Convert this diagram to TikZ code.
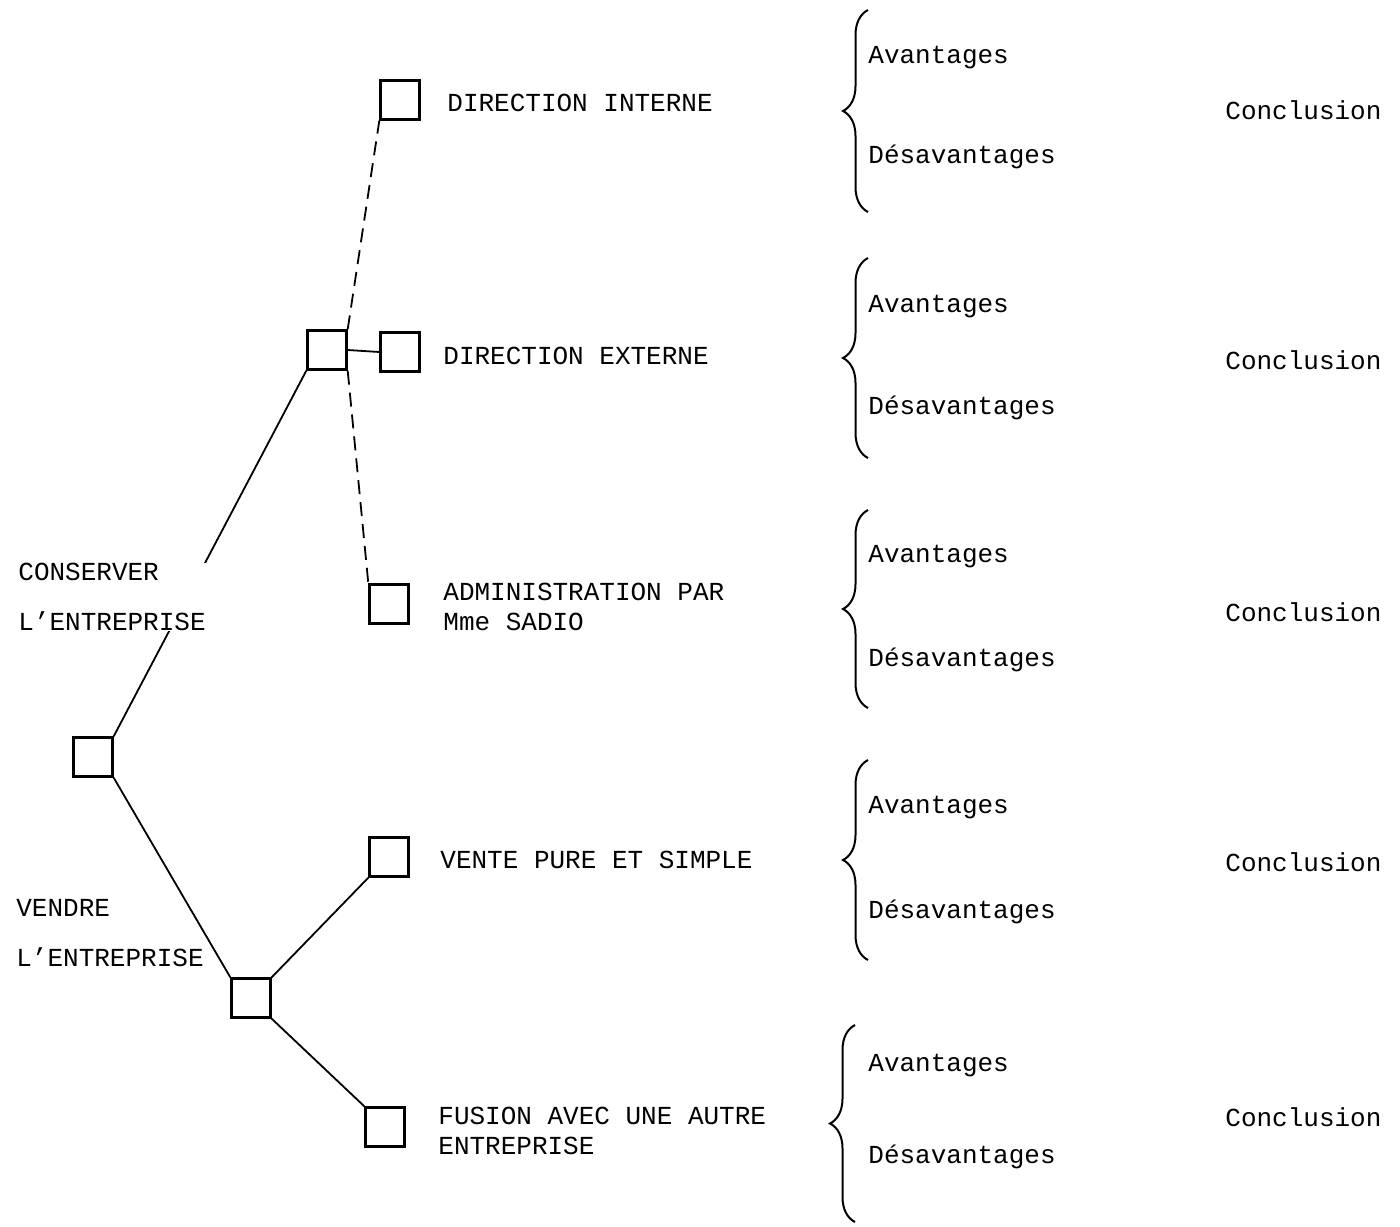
\documentclass[tikz,border=0pt]{standalone}
\usepackage{fontspec}
\setmainfont{Liberation Mono}
\usetikzlibrary{decorations.pathreplacing}

\begin{document}
\begin{tikzpicture}[x=0.5pt,y=-0.5pt,
  box/.style={draw,line width=1.2pt,inner sep=0pt,minimum size=19.5pt},
  lbl/.style={anchor=west,inner sep=0pt,font=\fontsize{13}{15}\selectfont,align=left},
  link/.style={line width=0.9pt},
  dashlink/.style={line width=0.9pt,dash pattern=on 7pt off 4pt},
  brace/.style={line width=1pt,decorate,decoration={brace,amplitude=12.5pt}}]
\useasboundingbox (0,0) rectangle (1400,1226);
%root and first choices
\node[box] (root) at (93,757) {};
\node[box] (keep) at (327,350) {};
\node[box] (sell) at (251,998) {};
\draw[link] (root.north east) -- (keep.south west);
\draw[link] (root.south east) -- (sell.north west);
\node[lbl,fill=white] (keeplbl) at (18,597) {CONSERVER\\[10pt]L'ENTREPRISE};
\node[lbl] (selllbl) at (16,933) {VENDRE\\[10pt]L'ENTREPRISE};
%options
\node[box] (intern) at (400,100) {};
\node[box] (extern) at (400,352) {};
\node[box] (admin) at (389,604) {};
\node[box] (vente) at (389,857) {};
\node[box] (fusion) at (385,1127) {};
\node[lbl] (internlbl) at (447,103) {DIRECTION INTERNE};
\node[lbl] (externlbl) at (443,356) {DIRECTION EXTERNE};
\node[lbl] (adminlbl) at (443,607) {ADMINISTRATION PAR\\Mme SADIO};
\node[lbl] (ventelbl) at (440,860) {VENTE PURE ET SIMPLE};
\node[lbl] (fusionlbl) at (438,1131) {FUSION AVEC UNE AUTRE\\ENTREPRISE};
\draw[dashlink] (keep.north east) -- (intern.south west);
\draw[link] (keep.east) -- (extern.west);
\draw[dashlink] (keep.south east) -- (admin.north west);
\draw[link] (sell.north east) -- (vente.south west);
\draw[link] (sell.south east) -- (fusion.north west);
%braces and conclusions
\foreach \i/\bx/\top/\bot/\a/\d/\c in {1/868/10/212/58/157/110,
  2/868/258/458/307/408/360, 3/868/510/708/557/660/612,
  4/868/760/960/808/912/862, 5/855/1025/1222/1066/1157/1117}
{
  \coordinate (b\i top) at (\bx,\top);
  \coordinate (b\i bot) at (\bx,\bot);
  \draw[brace] (b\i bot) -- (b\i top);
  \node[lbl] (av\i) at (868,\a) {Avantages};
  \node[lbl] (dav\i) at (868,\d) {Désavantages};
  \node[lbl] (concl\i) at (1225,\c) {Conclusion};
}
\end{tikzpicture}
\end{document}
